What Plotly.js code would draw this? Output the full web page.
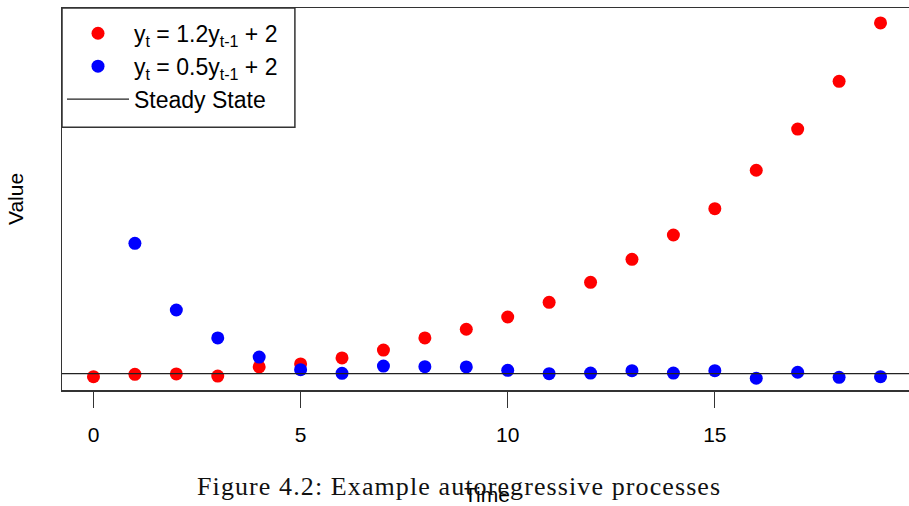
<!DOCTYPE html>
<html>
<head>
<meta charset="utf-8">
<script src="https://cdn.plot.ly/plotly-3.0.1.min.js"></script>
<style>
html, body { margin: 0; padding: 0; overflow: hidden; background: #fff; }
#chart { width: 913px; height: 506px; }
.annotation-text { letter-spacing: 1.1px; }
</style>
</head>
<body>
<div id="chart"></div>
<script>
// Time index
const time = [0,1,2,3,4,5,6,7,8,9,10,11,12,13,14,15,16,17,18,19];
// y_t = 1.2 y_{t-1} + 2 (deviation from steady state)
const explosive = [-0.23,-0.05,-0.02,-0.18,0.52,0.75,1.21,1.82,2.75,3.42,4.36,5.49,7.03,8.80,10.67,12.69,15.65,18.82,22.49,26.98];
// y_t = 0.5 y_{t-1} + 2 (first value not shown)
const stable = [null,10.03,4.90,2.75,1.28,0.31,0.03,0.59,0.54,0.52,0.26,0.00,0.05,0.23,0.05,0.23,-0.35,0.11,-0.28,-0.23];
// Steady state level
const steadyX = [-2, 22];
const steadyY = [0, 0];
const xTicks = [0, 5, 10, 15];
const names = ["y<sub>t</sub> = 1.2y<sub>t-1</sub> + 2", "y<sub>t</sub> = 0.5y<sub>t-1</sub> + 2", "Steady State"];

const sans = "Liberation Sans, Arial, sans-serif";

const traces = [
  { x: time, y: explosive, type: "scatter", mode: "markers", name: names[0],
    marker: { color: "#ff0000", size: 13 }, cliponaxis: false },
  { x: time, y: stable, type: "scatter", mode: "markers", name: names[1],
    marker: { color: "#0000ff", size: 13 }, cliponaxis: false },
  { x: steadyX, y: steadyY, type: "scatter", mode: "lines", name: names[2],
    line: { color: "#222", width: 1.3 } }
];

const layout = {
  width: 913, height: 506,
  margin: { l: 62, r: 1, t: 8, b: 116 },
  paper_bgcolor: "#fff", plot_bgcolor: "#fff",
  font: { family: sans, color: "#000", size: 21 },
  showlegend: true,
  legend: {
    x: 0, y: 0.99, xanchor: "left", yanchor: "top",
    bgcolor: "rgba(0,0,0,0)", borderwidth: 0,
    font: { family: sans, size: 23, color: "#000" },
    itemwidth: 62, tracegroupgap: 0
  },
  shapes: [
    { type: "rect", xref: "paper", yref: "paper", x0: 0, x1: 0.274, y0: 0.688, y1: 1,
      line: { color: "#333", width: 1.5 }, fillcolor: "#fff", layer: "below" }
  ],
  xaxis: {
    range: [-0.76, 19.76], tickvals: xTicks, ticktext: xTicks.map(String),
    ticks: "outside", ticklen: 16, tickwidth: 1.3, tickcolor: "#333",
    showline: true, mirror: true, linecolor: "#333", linewidth: 1.5,
    showgrid: false, zeroline: false,
    tickfont: { family: sans, size: 21, color: "#000" },
    ticklabelstandoff: 9,
    title: { text: "Time", font: { family: sans, size: 21, color: "#000" }, standoff: 44 }
  },
  yaxis: {
    range: [-1.254, 28.13],
    showticklabels: false, ticks: "",
    showline: true, mirror: true, linecolor: "#333", linewidth: 1.5,
    showgrid: false, zeroline: false,
    title: { text: "Value", font: { family: sans, size: 21, color: "#000" }, standoff: 31 }
  },
  annotations: [
    { text: "Figure 4.2: Example autoregressive processes", xref: "paper", yref: "paper",
      x: 0.467, y: -0.253, xanchor: "center", yanchor: "middle", showarrow: false,
      font: { family: "Liberation Serif, Times New Roman, serif", size: 26, color: "#111" } }
  ]
};

Plotly.newPlot("chart", traces, layout, { displayModeBar: false, staticPlot: true });
</script>
</body>
</html>
